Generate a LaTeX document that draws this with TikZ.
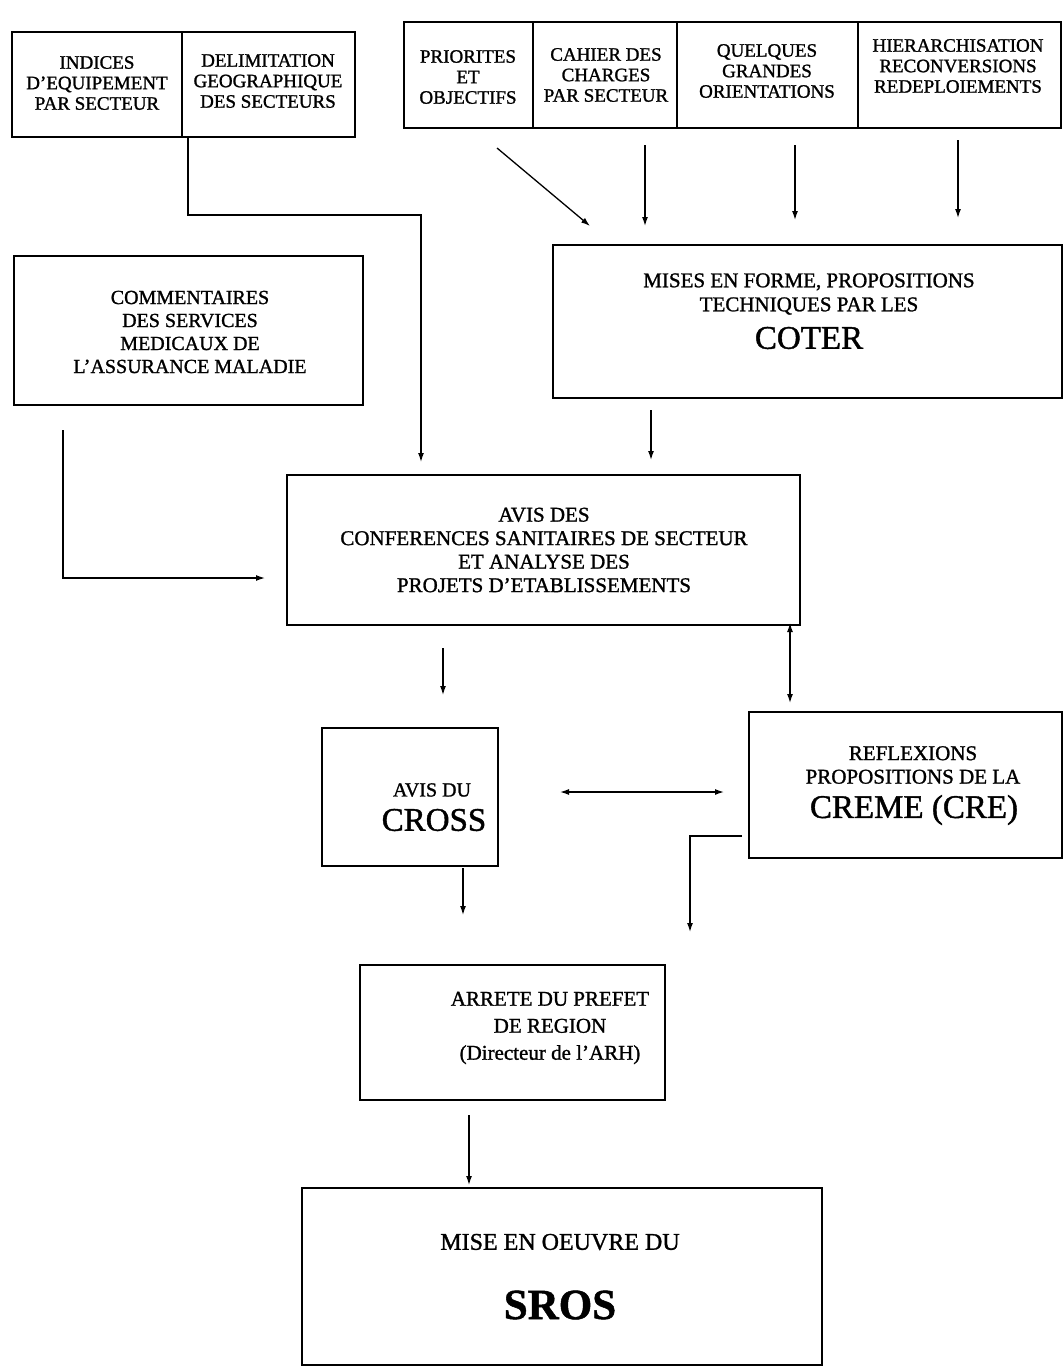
\documentclass[tikz,border=0pt]{standalone}
\usepackage{fontspec}
\setmainfont{Liberation Serif}[FakeBold=1.2]
\usetikzlibrary{arrows.meta,calc}
\begin{document}
\begin{tikzpicture}[x=1pt,y=-1pt,
  box/.style={draw,line width=2.4pt,inner sep=0pt,outer sep=0pt},
  txt/.style={align=center,inner sep=0pt,font=\fontsize{19pt}{20.5pt}\selectfont},
  mtxt/.style={align=center,inner sep=0pt,font=\fontsize{21pt}{23.5pt}\selectfont},
  big/.style={inner sep=0pt,font=\fontsize{33pt}{36pt}\selectfont},
  arr/.style={line width=1.3pt,-{Latex[length=9pt,width=6pt]}},
  darr/.style={line width=1.3pt,{Latex[length=9pt,width=6pt]}-{Latex[length=9pt,width=6pt]}}]
\useasboundingbox[fill=white] (0,0) rectangle (1064,1368);

% top-left group
\node[box,minimum width=170pt,minimum height=105pt] (indices) at (97,84.5) {};
\node[box,minimum width=173pt,minimum height=105pt] (delim) at (268.5,84.5) {};
\node[txt] (tind) at (97,83) {INDICES\\D'EQUIPEMENT\\PAR SECTEUR};
\node[txt] (tdel) at (268,81) {DELIMITATION\\GEOGRAPHIQUE\\DES SECTEURS};

% top-right group
\node[box,minimum width=129pt,minimum height=106pt] (prio) at (468.5,75) {};
\node[box,minimum width=144pt,minimum height=106pt] (cahier) at (605,75) {};
\node[box,minimum width=181pt,minimum height=106pt] (quel) at (767.5,75) {};
\node[box,minimum width=203pt,minimum height=106pt] (hier) at (959.5,75) {};
\node[txt] (tprio) at (468,77) {PRIORITES\\ET\\OBJECTIFS};
\node[txt] (tcah) at (606,75) {CAHIER DES\\CHARGES\\PAR SECTEUR};
\node[txt] (tquel) at (767,71) {QUELQUES\\GRANDES\\ORIENTATIONS};
\node[txt] (thier) at (958,66) {HIERARCHISATION\\RECONVERSIONS\\REDEPLOIEMENTS};

% commentaires
\node[box,minimum width=349pt,minimum height=149pt] (comm) at (188.5,330.5) {};
\node[align=center,inner sep=0pt,font=\fontsize{20pt}{23pt}\selectfont] (tcomm) at (190,332) {COMMENTAIRES\\DES SERVICES\\MEDICAUX DE\\L'ASSURANCE MALADIE};

% coter
\node[box,minimum width=509pt,minimum height=153pt] (coter) at (807.5,321.5) {};
\node[mtxt,font=\fontsize{21pt}{24pt}\selectfont] (tcot) at (809,294) {MISES EN FORME, PROPOSITIONS\\TECHNIQUES PAR LES};
\node[big] (tcot2) at (809,338) {COTER};

% avis des conferences
\node[box,minimum width=513pt,minimum height=150pt] (avis) at (543.5,550) {};
\node[mtxt] (tavis) at (544,550) {AVIS DES\\CONFERENCES SANITAIRES DE SECTEUR\\ET ANALYSE DES\\PROJETS D'ETABLISSEMENTS};

% cross
\node[box,minimum width=176pt,minimum height=138pt] (cross) at (410,797) {};
\node[inner sep=0pt,font=\fontsize{20pt}{22pt}\selectfont] (tcr1) at (432,790) {AVIS DU};
\node[big] (tcr2) at (434,820) {CROSS};

% creme
\node[box,minimum width=313pt,minimum height=146pt] (creme) at (905.5,785) {};
\node[mtxt] (tcre1) at (913,765) {REFLEXIONS\\PROPOSITIONS DE LA};
\node[big] (tcre2) at (914,810) {CREME (CRE)};

% arrete
\node[box,minimum width=305pt,minimum height=135pt] (arrete) at (512.5,1032.5) {};
\node[align=center,inner sep=0pt,font=\fontsize{21pt}{27pt}\selectfont] (tarr) at (550,1028) {ARRETE DU PREFET\\DE REGION\\(Directeur de l'ARH)};

% sros
\node[box,minimum width=520pt,minimum height=177pt] (sros) at (562,1276.5) {};
\node[inner sep=0pt,font=\fontsize{24pt}{28pt}\selectfont] (tsr1) at (560,1242) {MISE EN OEUVRE DU};
\node[inner sep=0pt,font=\fontsize{43pt}{48pt}\selectfont\bfseries] (tsr2) at (560,1305) {SROS};

% connectors
\draw[arr] ($(delim.south west)+(6,0)$) -- ++(0,78) -| ($(avis.north west)+(134,-13)$);
\draw[arr] ($(prio.south east)+(-36,20)$) -- ($(coter.north west)+(37,-19)$);
\draw[arr] ($(cahier.south)+(40,17)$) -- ($(coter.north west)+(92,-19)$);
\draw[arr] ($(quel.south)+(27.5,17)$) -- ($(coter.north west)+(242,-25)$);
\draw[arr] ($(hier.south)+(-1.5,12)$) -- ($(coter.north west)+(405,-27)$);
\draw[arr] ($(coter.south west)+(98,12)$) -- ($(avis.north west)+(364,-15)$);
\draw[arr] ($(comm.south west)+(49,25)$) |- ($(avis.west)+(-22,28)$);
\draw[arr] ($(avis.south west)+(156,23)$) -- ($(cross.north west)+(121,-33)$);
\draw[darr] ($(avis.south east)+(-10,-2)$) -- ($(creme.north west)+(41,-9)$);
\draw[darr] ($(cross.east)+(62,-5)$) -- ($(creme.west)+(-25,7)$);
\draw[arr] ($(cross.south)+(53,2)$) -- ($(arrete.north west)+(103,-50)$);
\draw[arr] ($(creme.south west)+(-7,-22)$) -| ($(arrete.north east)+(25,-33)$);
\draw[arr] ($(arrete.south west)+(109,15)$) -- ($(sros.north west)+(167,-3)$);
\end{tikzpicture}
\end{document}
